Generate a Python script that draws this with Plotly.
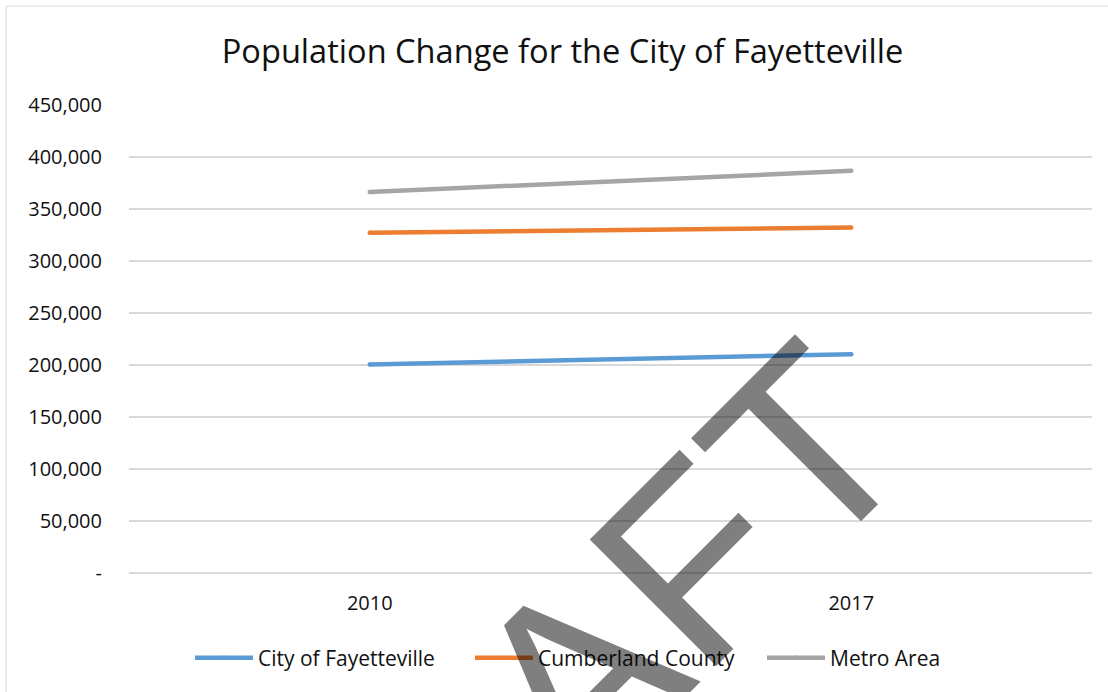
import math
import plotly.graph_objects as go

years = ["2010", "2017"]
city = [200600, 210400]
county = [327100, 332300]
metro = [366400, 386700]
series_names = ["City of Fayetteville", "Cumberland County", "Metro Area"]
colors = ["#5B9BD5", "#ED7D31", "#A5A5A5"]
tick_vals = [0, 50000, 100000, 150000, 200000, 250000, 300000, 350000, 400000, 450000]
tick_text = ["-", "50,000", "100,000", "150,000", "200,000", "250,000", "300,000", "350,000", "400,000", "450,000"]
title_text = "Population Change for the City of Fayetteville"
watermark = "DRAFT"

W, H = 1108, 692
L, R, T, B = 129, 16, 105, 119
pw, ph = W - L - R, H - T - B

def px_x(x):
    return (x - L) / pw

def px_y(y):
    return (H - B - y) / ph

fig = go.Figure()
legend_ids = ["legend", "legend2", "legend3"]
legend_starts = [190, 470, 762]
for name, vals, col, lid in zip(series_names, [city, county, metro], colors, legend_ids):
    fig.add_trace(go.Scatter(x=years, y=vals, mode="lines+markers", name=name, legend=lid,
                             showlegend=True, line=dict(color=col, width=4.5),
                             marker=dict(color=col, size=4.5, line=dict(width=0))))

legend_common = dict(orientation="h", xanchor="left", y=px_y(658), yanchor="middle",
                     itemwidth=58, font=dict(size=21, color="#111111"),
                     bgcolor="rgba(0,0,0,0)")

# watermark centre, in a frame rotated 45 degrees (u along the baseline, v upwards)
u_c, v_c = -101, -887
wm_x = (u_c - v_c) / math.sqrt(2)
wm_y = -(u_c + v_c) / math.sqrt(2)

fig.update_layout(
    width=W, height=H,
    margin=dict(l=L, r=R, t=T, b=B),
    showlegend=True,
    paper_bgcolor="white", plot_bgcolor="white",
    font=dict(family="Open Sans", color="#111111", size=20),
    title=dict(text=title_text, font=dict(size=32.6, color="#111111"),
               x=562.5 / W, xanchor="center", xref="container",
               y=1 - 52 / H, yanchor="middle", yref="container"),
    xaxis=dict(type="category", range=[-0.5, 1.5], showgrid=False,
               showline=False, zeroline=False, ticks="",
               ticklabelstandoff=16, tickfont=dict(size=20)),
    yaxis=dict(range=[0, 450000], tickvals=tick_vals, ticktext=tick_text,
               showgrid=True, gridcolor="#D9D9D9", gridwidth=1.5,
               zeroline=True, zerolinecolor="#D9D9D9", zerolinewidth=2,
               showline=False, ticks="", ticklabelstandoff=26,
               tickfont=dict(size=20)),
    legend=dict(legend_common, x=px_x(legend_starts[0])),
    legend2=dict(legend_common, x=px_x(legend_starts[1])),
    legend3=dict(legend_common, x=px_x(legend_starts[2])),
    shapes=[dict(type="rect", xref="paper", yref="paper",
                 x0=px_x(6), x1=px_x(W + 5), y0=px_y(H + 5), y1=px_y(6),
                 line=dict(color="#D9D9D9", width=1), layer="below")],
    annotations=[dict(text=watermark, xref="paper", yref="paper",
                      x=px_x(wm_x), y=px_y(wm_y), showarrow=False,
                      textangle=-45, xanchor="center", yanchor="middle",
                      font=dict(size=260, color="rgba(0,0,0,0.5)",
                                family="Liberation Sans"))],
)

fig.write_html("out.html", config={"displayModeBar": False},
               post_script="document.body.style.margin='0';document.body.style.overflow='hidden';")
